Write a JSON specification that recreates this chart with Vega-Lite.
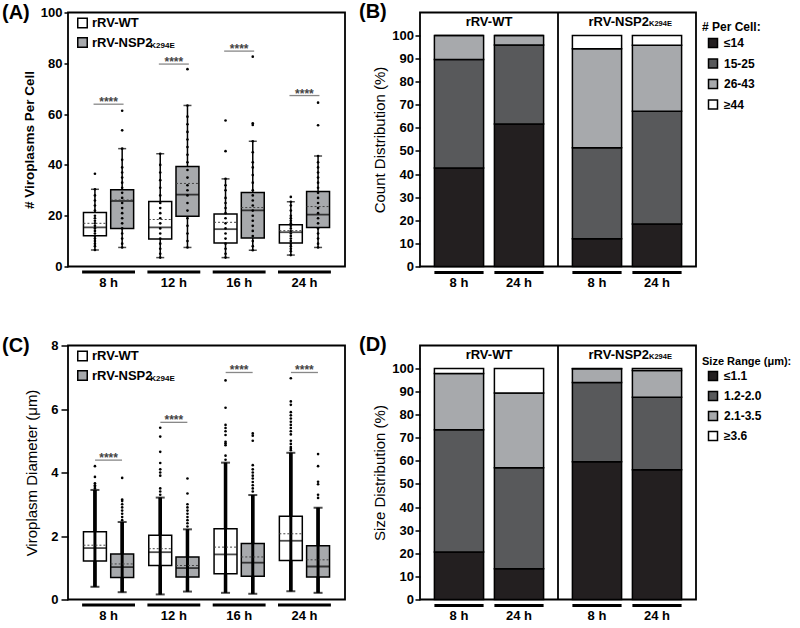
{
  "$schema": "https://vega.github.io/schema/vega-lite/v6.json",
  "background": "white",
  "padding": {"left": 1, "top": 0.5, "right": 0, "bottom": 0},
  "config": {
    "font": "Liberation Sans",
    "view": {"stroke": "#000", "strokeWidth": 1.8},
    "axis": {"grid": false, "domain": false, "labelOverlap": false, "labelFontWeight": "bold", "labelColor": "#000", "titleFontWeight": "normal", "titleColor": "#000", "tickColor": "#000", "tickWidth": 1.5},
    "axisY": {"labelOverlap": false},
    "axisQuantitative": {"labelOverlap": false},
    "legend": {"symbolOpacity": 1}
  },
  "resolve": {"scale": {"xOffset": "independent", "color": "independent", "fill": "independent"}, "legend": {"color": "independent", "fill": "independent"}},
  "datasets": {
    "boxA": [
      {"time": "8 h", "strain": "rRV-WT", "min": 6.5, "q1": 12.1, "median": 15.4, "mean": 17.0, "q3": 21.3, "max": 30.4},
      {"time": "8 h", "strain": "rRV-NSP2K294E", "min": 7.5, "q1": 15.0, "median": 25.8, "mean": 26.2, "q3": 30.2, "max": 46.4},
      {"time": "12 h", "strain": "rRV-WT", "min": 3.5, "q1": 10.8, "median": 15.4, "mean": 18.5, "q3": 25.6, "max": 44.4},
      {"time": "12 h", "strain": "rRV-NSP2K294E", "min": 7.5, "q1": 19.8, "median": 28.3, "mean": 32.7, "q3": 39.4, "max": 63.4},
      {"time": "16 h", "strain": "rRV-WT", "min": 3.5, "q1": 9.3, "median": 14.7, "mean": 17.4, "q3": 20.7, "max": 34.5},
      {"time": "16 h", "strain": "rRV-NSP2K294E", "min": 6.4, "q1": 11.2, "median": 22.1, "mean": 23.2, "q3": 29.1, "max": 49.3},
      {"time": "24 h", "strain": "rRV-WT", "min": 4.5, "q1": 9.3, "median": 13.5, "mean": 14.1, "q3": 16.4, "max": 25.5},
      {"time": "24 h", "strain": "rRV-NSP2K294E", "min": 7.5, "q1": 15.4, "median": 20.4, "mean": 23.6, "q3": 29.5, "max": 43.5}
    ],
    "boxC": [
      {"time": "8 h", "strain": "rRV-WT", "min": 0.4, "q1": 1.21, "median": 1.62, "mean": 1.71, "q3": 2.13, "max": 3.45},
      {"time": "8 h", "strain": "rRV-NSP2K294E", "min": 0.23, "q1": 0.69, "median": 1.02, "mean": 1.12, "q3": 1.43, "max": 2.44},
      {"time": "12 h", "strain": "rRV-WT", "min": 0.16, "q1": 1.07, "median": 1.49, "mean": 1.6, "q3": 2.02, "max": 3.21},
      {"time": "12 h", "strain": "rRV-NSP2K294E", "min": 0.25, "q1": 0.71, "median": 0.99, "mean": 1.07, "q3": 1.34, "max": 2.21},
      {"time": "16 h", "strain": "rRV-WT", "min": 0.21, "q1": 0.81, "median": 1.42, "mean": 1.65, "q3": 2.23, "max": 4.31},
      {"time": "16 h", "strain": "rRV-NSP2K294E", "min": 0.18, "q1": 0.73, "median": 1.16, "mean": 1.34, "q3": 1.76, "max": 3.29},
      {"time": "24 h", "strain": "rRV-WT", "min": 0.26, "q1": 1.23, "median": 1.85, "mean": 2.07, "q3": 2.62, "max": 4.62},
      {"time": "24 h", "strain": "rRV-NSP2K294E", "min": 0.21, "q1": 0.71, "median": 1.04, "mean": 1.25, "q3": 1.69, "max": 2.89}
    ],
    "ptsA": [
      {"time": "8 h", "strain": "rRV-WT", "v": 6.5}, {"time": "8 h", "strain": "rRV-WT", "v": 8}, {"time": "8 h", "strain": "rRV-WT", "v": 9}, {"time": "8 h", "strain": "rRV-WT", "v": 10}, {"time": "8 h", "strain": "rRV-WT", "v": 11}, {"time": "8 h", "strain": "rRV-WT", "v": 12}, {"time": "8 h", "strain": "rRV-WT", "v": 13}, {"time": "8 h", "strain": "rRV-WT", "v": 14}, {"time": "8 h", "strain": "rRV-WT", "v": 15}, {"time": "8 h", "strain": "rRV-WT", "v": 16}, {"time": "8 h", "strain": "rRV-WT", "v": 17}, {"time": "8 h", "strain": "rRV-WT", "v": 18}, {"time": "8 h", "strain": "rRV-WT", "v": 19}, {"time": "8 h", "strain": "rRV-WT", "v": 20}, {"time": "8 h", "strain": "rRV-WT", "v": 22}, {"time": "8 h", "strain": "rRV-WT", "v": 24}, {"time": "8 h", "strain": "rRV-WT", "v": 26}, {"time": "8 h", "strain": "rRV-WT", "v": 28}, {"time": "8 h", "strain": "rRV-WT", "v": 30.4}, {"time": "8 h", "strain": "rRV-WT", "v": 36.5},
      {"time": "8 h", "strain": "rRV-NSP2K294E", "v": 7.5}, {"time": "8 h", "strain": "rRV-NSP2K294E", "v": 9}, {"time": "8 h", "strain": "rRV-NSP2K294E", "v": 11}, {"time": "8 h", "strain": "rRV-NSP2K294E", "v": 13}, {"time": "8 h", "strain": "rRV-NSP2K294E", "v": 15}, {"time": "8 h", "strain": "rRV-NSP2K294E", "v": 17}, {"time": "8 h", "strain": "rRV-NSP2K294E", "v": 19}, {"time": "8 h", "strain": "rRV-NSP2K294E", "v": 21}, {"time": "8 h", "strain": "rRV-NSP2K294E", "v": 23}, {"time": "8 h", "strain": "rRV-NSP2K294E", "v": 25}, {"time": "8 h", "strain": "rRV-NSP2K294E", "v": 27}, {"time": "8 h", "strain": "rRV-NSP2K294E", "v": 29}, {"time": "8 h", "strain": "rRV-NSP2K294E", "v": 31}, {"time": "8 h", "strain": "rRV-NSP2K294E", "v": 33}, {"time": "8 h", "strain": "rRV-NSP2K294E", "v": 35}, {"time": "8 h", "strain": "rRV-NSP2K294E", "v": 37}, {"time": "8 h", "strain": "rRV-NSP2K294E", "v": 39}, {"time": "8 h", "strain": "rRV-NSP2K294E", "v": 42}, {"time": "8 h", "strain": "rRV-NSP2K294E", "v": 46.4}, {"time": "8 h", "strain": "rRV-NSP2K294E", "v": 53.6}, {"time": "8 h", "strain": "rRV-NSP2K294E", "v": 61.3},
      {"time": "12 h", "strain": "rRV-WT", "v": 3.5}, {"time": "12 h", "strain": "rRV-WT", "v": 5}, {"time": "12 h", "strain": "rRV-WT", "v": 7}, {"time": "12 h", "strain": "rRV-WT", "v": 9}, {"time": "12 h", "strain": "rRV-WT", "v": 11}, {"time": "12 h", "strain": "rRV-WT", "v": 13}, {"time": "12 h", "strain": "rRV-WT", "v": 15}, {"time": "12 h", "strain": "rRV-WT", "v": 17}, {"time": "12 h", "strain": "rRV-WT", "v": 19}, {"time": "12 h", "strain": "rRV-WT", "v": 21}, {"time": "12 h", "strain": "rRV-WT", "v": 23}, {"time": "12 h", "strain": "rRV-WT", "v": 25}, {"time": "12 h", "strain": "rRV-WT", "v": 28}, {"time": "12 h", "strain": "rRV-WT", "v": 31}, {"time": "12 h", "strain": "rRV-WT", "v": 34}, {"time": "12 h", "strain": "rRV-WT", "v": 37}, {"time": "12 h", "strain": "rRV-WT", "v": 40}, {"time": "12 h", "strain": "rRV-WT", "v": 44.4},
      {"time": "12 h", "strain": "rRV-NSP2K294E", "v": 7.5}, {"time": "12 h", "strain": "rRV-NSP2K294E", "v": 10}, {"time": "12 h", "strain": "rRV-NSP2K294E", "v": 13}, {"time": "12 h", "strain": "rRV-NSP2K294E", "v": 16}, {"time": "12 h", "strain": "rRV-NSP2K294E", "v": 19}, {"time": "12 h", "strain": "rRV-NSP2K294E", "v": 22}, {"time": "12 h", "strain": "rRV-NSP2K294E", "v": 25}, {"time": "12 h", "strain": "rRV-NSP2K294E", "v": 28}, {"time": "12 h", "strain": "rRV-NSP2K294E", "v": 30}, {"time": "12 h", "strain": "rRV-NSP2K294E", "v": 32}, {"time": "12 h", "strain": "rRV-NSP2K294E", "v": 35}, {"time": "12 h", "strain": "rRV-NSP2K294E", "v": 38}, {"time": "12 h", "strain": "rRV-NSP2K294E", "v": 41}, {"time": "12 h", "strain": "rRV-NSP2K294E", "v": 44}, {"time": "12 h", "strain": "rRV-NSP2K294E", "v": 47}, {"time": "12 h", "strain": "rRV-NSP2K294E", "v": 50}, {"time": "12 h", "strain": "rRV-NSP2K294E", "v": 53}, {"time": "12 h", "strain": "rRV-NSP2K294E", "v": 56}, {"time": "12 h", "strain": "rRV-NSP2K294E", "v": 59}, {"time": "12 h", "strain": "rRV-NSP2K294E", "v": 63.4}, {"time": "12 h", "strain": "rRV-NSP2K294E", "v": 77.7},
      {"time": "16 h", "strain": "rRV-WT", "v": 3.5}, {"time": "16 h", "strain": "rRV-WT", "v": 5}, {"time": "16 h", "strain": "rRV-WT", "v": 7}, {"time": "16 h", "strain": "rRV-WT", "v": 9}, {"time": "16 h", "strain": "rRV-WT", "v": 11}, {"time": "16 h", "strain": "rRV-WT", "v": 13}, {"time": "16 h", "strain": "rRV-WT", "v": 15}, {"time": "16 h", "strain": "rRV-WT", "v": 17}, {"time": "16 h", "strain": "rRV-WT", "v": 19}, {"time": "16 h", "strain": "rRV-WT", "v": 21}, {"time": "16 h", "strain": "rRV-WT", "v": 23}, {"time": "16 h", "strain": "rRV-WT", "v": 25}, {"time": "16 h", "strain": "rRV-WT", "v": 27}, {"time": "16 h", "strain": "rRV-WT", "v": 30}, {"time": "16 h", "strain": "rRV-WT", "v": 32}, {"time": "16 h", "strain": "rRV-WT", "v": 34.5}, {"time": "16 h", "strain": "rRV-WT", "v": 45.4}, {"time": "16 h", "strain": "rRV-WT", "v": 57.5},
      {"time": "16 h", "strain": "rRV-NSP2K294E", "v": 6.4}, {"time": "16 h", "strain": "rRV-NSP2K294E", "v": 8}, {"time": "16 h", "strain": "rRV-NSP2K294E", "v": 10}, {"time": "16 h", "strain": "rRV-NSP2K294E", "v": 12}, {"time": "16 h", "strain": "rRV-NSP2K294E", "v": 14}, {"time": "16 h", "strain": "rRV-NSP2K294E", "v": 16}, {"time": "16 h", "strain": "rRV-NSP2K294E", "v": 18}, {"time": "16 h", "strain": "rRV-NSP2K294E", "v": 20}, {"time": "16 h", "strain": "rRV-NSP2K294E", "v": 22}, {"time": "16 h", "strain": "rRV-NSP2K294E", "v": 24}, {"time": "16 h", "strain": "rRV-NSP2K294E", "v": 26}, {"time": "16 h", "strain": "rRV-NSP2K294E", "v": 28}, {"time": "16 h", "strain": "rRV-NSP2K294E", "v": 30}, {"time": "16 h", "strain": "rRV-NSP2K294E", "v": 33}, {"time": "16 h", "strain": "rRV-NSP2K294E", "v": 36}, {"time": "16 h", "strain": "rRV-NSP2K294E", "v": 39}, {"time": "16 h", "strain": "rRV-NSP2K294E", "v": 41}, {"time": "16 h", "strain": "rRV-NSP2K294E", "v": 45}, {"time": "16 h", "strain": "rRV-NSP2K294E", "v": 49.3}, {"time": "16 h", "strain": "rRV-NSP2K294E", "v": 55.7}, {"time": "16 h", "strain": "rRV-NSP2K294E", "v": 56.4}, {"time": "16 h", "strain": "rRV-NSP2K294E", "v": 82.6},
      {"time": "24 h", "strain": "rRV-WT", "v": 4.5}, {"time": "24 h", "strain": "rRV-WT", "v": 6}, {"time": "24 h", "strain": "rRV-WT", "v": 7}, {"time": "24 h", "strain": "rRV-WT", "v": 8}, {"time": "24 h", "strain": "rRV-WT", "v": 9}, {"time": "24 h", "strain": "rRV-WT", "v": 10}, {"time": "24 h", "strain": "rRV-WT", "v": 11}, {"time": "24 h", "strain": "rRV-WT", "v": 12}, {"time": "24 h", "strain": "rRV-WT", "v": 13}, {"time": "24 h", "strain": "rRV-WT", "v": 14}, {"time": "24 h", "strain": "rRV-WT", "v": 15}, {"time": "24 h", "strain": "rRV-WT", "v": 16}, {"time": "24 h", "strain": "rRV-WT", "v": 17}, {"time": "24 h", "strain": "rRV-WT", "v": 18}, {"time": "24 h", "strain": "rRV-WT", "v": 19}, {"time": "24 h", "strain": "rRV-WT", "v": 20}, {"time": "24 h", "strain": "rRV-WT", "v": 22}, {"time": "24 h", "strain": "rRV-WT", "v": 24}, {"time": "24 h", "strain": "rRV-WT", "v": 25.5}, {"time": "24 h", "strain": "rRV-WT", "v": 27.4},
      {"time": "24 h", "strain": "rRV-NSP2K294E", "v": 7.5}, {"time": "24 h", "strain": "rRV-NSP2K294E", "v": 9}, {"time": "24 h", "strain": "rRV-NSP2K294E", "v": 11}, {"time": "24 h", "strain": "rRV-NSP2K294E", "v": 13}, {"time": "24 h", "strain": "rRV-NSP2K294E", "v": 15}, {"time": "24 h", "strain": "rRV-NSP2K294E", "v": 17}, {"time": "24 h", "strain": "rRV-NSP2K294E", "v": 19}, {"time": "24 h", "strain": "rRV-NSP2K294E", "v": 21}, {"time": "24 h", "strain": "rRV-NSP2K294E", "v": 23}, {"time": "24 h", "strain": "rRV-NSP2K294E", "v": 25}, {"time": "24 h", "strain": "rRV-NSP2K294E", "v": 27}, {"time": "24 h", "strain": "rRV-NSP2K294E", "v": 29}, {"time": "24 h", "strain": "rRV-NSP2K294E", "v": 31}, {"time": "24 h", "strain": "rRV-NSP2K294E", "v": 33}, {"time": "24 h", "strain": "rRV-NSP2K294E", "v": 35}, {"time": "24 h", "strain": "rRV-NSP2K294E", "v": 37}, {"time": "24 h", "strain": "rRV-NSP2K294E", "v": 39}, {"time": "24 h", "strain": "rRV-NSP2K294E", "v": 41}, {"time": "24 h", "strain": "rRV-NSP2K294E", "v": 43.5}, {"time": "24 h", "strain": "rRV-NSP2K294E", "v": 55.6}, {"time": "24 h", "strain": "rRV-NSP2K294E", "v": 64.5}
    ],
    "ptsC": [
      {"time": "8 h", "strain": "rRV-WT", "v": 3.5}, {"time": "8 h", "strain": "rRV-WT", "v": 3.55}, {"time": "8 h", "strain": "rRV-WT", "v": 3.6}, {"time": "8 h", "strain": "rRV-WT", "v": 3.66}, {"time": "8 h", "strain": "rRV-WT", "v": 3.86}, {"time": "8 h", "strain": "rRV-WT", "v": 4.2},
      {"time": "8 h", "strain": "rRV-NSP2K294E", "v": 2.5}, {"time": "8 h", "strain": "rRV-NSP2K294E", "v": 2.6}, {"time": "8 h", "strain": "rRV-NSP2K294E", "v": 2.7}, {"time": "8 h", "strain": "rRV-NSP2K294E", "v": 2.8}, {"time": "8 h", "strain": "rRV-NSP2K294E", "v": 2.9}, {"time": "8 h", "strain": "rRV-NSP2K294E", "v": 3.0}, {"time": "8 h", "strain": "rRV-NSP2K294E", "v": 3.1}, {"time": "8 h", "strain": "rRV-NSP2K294E", "v": 3.15}, {"time": "8 h", "strain": "rRV-NSP2K294E", "v": 3.83},
      {"time": "12 h", "strain": "rRV-WT", "v": 3.3}, {"time": "12 h", "strain": "rRV-WT", "v": 3.4}, {"time": "12 h", "strain": "rRV-WT", "v": 3.5}, {"time": "12 h", "strain": "rRV-WT", "v": 3.9}, {"time": "12 h", "strain": "rRV-WT", "v": 4.0}, {"time": "12 h", "strain": "rRV-WT", "v": 4.1}, {"time": "12 h", "strain": "rRV-WT", "v": 4.3}, {"time": "12 h", "strain": "rRV-WT", "v": 4.65}, {"time": "12 h", "strain": "rRV-WT", "v": 5.13}, {"time": "12 h", "strain": "rRV-WT", "v": 5.41},
      {"time": "12 h", "strain": "rRV-NSP2K294E", "v": 2.3}, {"time": "12 h", "strain": "rRV-NSP2K294E", "v": 2.4}, {"time": "12 h", "strain": "rRV-NSP2K294E", "v": 2.5}, {"time": "12 h", "strain": "rRV-NSP2K294E", "v": 2.6}, {"time": "12 h", "strain": "rRV-NSP2K294E", "v": 2.7}, {"time": "12 h", "strain": "rRV-NSP2K294E", "v": 2.8}, {"time": "12 h", "strain": "rRV-NSP2K294E", "v": 2.9}, {"time": "12 h", "strain": "rRV-NSP2K294E", "v": 3.0}, {"time": "12 h", "strain": "rRV-NSP2K294E", "v": 3.34}, {"time": "12 h", "strain": "rRV-NSP2K294E", "v": 3.81},
      {"time": "16 h", "strain": "rRV-WT", "v": 4.4}, {"time": "16 h", "strain": "rRV-WT", "v": 4.53}, {"time": "16 h", "strain": "rRV-WT", "v": 4.86}, {"time": "16 h", "strain": "rRV-WT", "v": 4.92}, {"time": "16 h", "strain": "rRV-WT", "v": 4.97}, {"time": "16 h", "strain": "rRV-WT", "v": 5.18}, {"time": "16 h", "strain": "rRV-WT", "v": 5.3}, {"time": "16 h", "strain": "rRV-WT", "v": 5.4}, {"time": "16 h", "strain": "rRV-WT", "v": 5.5}, {"time": "16 h", "strain": "rRV-WT", "v": 6.04}, {"time": "16 h", "strain": "rRV-WT", "v": 6.9},
      {"time": "16 h", "strain": "rRV-NSP2K294E", "v": 3.4}, {"time": "16 h", "strain": "rRV-NSP2K294E", "v": 3.5}, {"time": "16 h", "strain": "rRV-NSP2K294E", "v": 3.6}, {"time": "16 h", "strain": "rRV-NSP2K294E", "v": 3.7}, {"time": "16 h", "strain": "rRV-NSP2K294E", "v": 3.81}, {"time": "16 h", "strain": "rRV-NSP2K294E", "v": 3.9}, {"time": "16 h", "strain": "rRV-NSP2K294E", "v": 4.0}, {"time": "16 h", "strain": "rRV-NSP2K294E", "v": 4.1}, {"time": "16 h", "strain": "rRV-NSP2K294E", "v": 4.23}, {"time": "16 h", "strain": "rRV-NSP2K294E", "v": 5.0}, {"time": "16 h", "strain": "rRV-NSP2K294E", "v": 5.16}, {"time": "16 h", "strain": "rRV-NSP2K294E", "v": 5.23},
      {"time": "24 h", "strain": "rRV-WT", "v": 4.7}, {"time": "24 h", "strain": "rRV-WT", "v": 4.75}, {"time": "24 h", "strain": "rRV-WT", "v": 4.8}, {"time": "24 h", "strain": "rRV-WT", "v": 4.9}, {"time": "24 h", "strain": "rRV-WT", "v": 5.0}, {"time": "24 h", "strain": "rRV-WT", "v": 5.2}, {"time": "24 h", "strain": "rRV-WT", "v": 5.3}, {"time": "24 h", "strain": "rRV-WT", "v": 5.4}, {"time": "24 h", "strain": "rRV-WT", "v": 5.5}, {"time": "24 h", "strain": "rRV-WT", "v": 5.6}, {"time": "24 h", "strain": "rRV-WT", "v": 5.7}, {"time": "24 h", "strain": "rRV-WT", "v": 5.8}, {"time": "24 h", "strain": "rRV-WT", "v": 5.9}, {"time": "24 h", "strain": "rRV-WT", "v": 6.13}, {"time": "24 h", "strain": "rRV-WT", "v": 6.24}, {"time": "24 h", "strain": "rRV-WT", "v": 6.97},
      {"time": "24 h", "strain": "rRV-NSP2K294E", "v": 3.2}, {"time": "24 h", "strain": "rRV-NSP2K294E", "v": 3.3}, {"time": "24 h", "strain": "rRV-NSP2K294E", "v": 3.63}, {"time": "24 h", "strain": "rRV-NSP2K294E", "v": 3.71}, {"time": "24 h", "strain": "rRV-NSP2K294E", "v": 4.2}, {"time": "24 h", "strain": "rRV-NSP2K294E", "v": 4.58}
    ],
    "sigA": [{"time": "8 h", "y": 63.9}, {"time": "12 h", "y": 79.7}, {"time": "16 h", "y": 84.8}, {"time": "24 h", "y": 67.3}],
    "sigC": [{"time": "8 h", "y": 4.39}, {"time": "12 h", "y": 5.58}, {"time": "16 h", "y": 7.15}, {"time": "24 h", "y": 7.15}],
    "countB": [
      {"strain": "rRV-WT", "time": "8 h", "range": "≤14", "pct": 42.6}, {"strain": "rRV-WT", "time": "8 h", "range": "15-25", "pct": 47.0}, {"strain": "rRV-WT", "time": "8 h", "range": "26-43", "pct": 10.4}, {"strain": "rRV-WT", "time": "8 h", "range": "≥44", "pct": 0},
      {"strain": "rRV-WT", "time": "24 h", "range": "≤14", "pct": 61.7}, {"strain": "rRV-WT", "time": "24 h", "range": "15-25", "pct": 34.1}, {"strain": "rRV-WT", "time": "24 h", "range": "26-43", "pct": 4.2}, {"strain": "rRV-WT", "time": "24 h", "range": "≥44", "pct": 0},
      {"strain": "rRV-NSP2K294E", "time": "8 h", "range": "≤14", "pct": 12.0}, {"strain": "rRV-NSP2K294E", "time": "8 h", "range": "15-25", "pct": 39.4}, {"strain": "rRV-NSP2K294E", "time": "8 h", "range": "26-43", "pct": 42.8}, {"strain": "rRV-NSP2K294E", "time": "8 h", "range": "≥44", "pct": 5.8},
      {"strain": "rRV-NSP2K294E", "time": "24 h", "range": "≤14", "pct": 18.4}, {"strain": "rRV-NSP2K294E", "time": "24 h", "range": "15-25", "pct": 48.8}, {"strain": "rRV-NSP2K294E", "time": "24 h", "range": "26-43", "pct": 28.5}, {"strain": "rRV-NSP2K294E", "time": "24 h", "range": "≥44", "pct": 4.3}
    ],
    "sizeD": [
      {"strain": "rRV-WT", "time": "8 h", "range": "≤1.1", "pct": 20.6}, {"strain": "rRV-WT", "time": "8 h", "range": "1.2-2.0", "pct": 52.9}, {"strain": "rRV-WT", "time": "8 h", "range": "2.1-3.5", "pct": 24.3}, {"strain": "rRV-WT", "time": "8 h", "range": "≥3.6", "pct": 2.2},
      {"strain": "rRV-WT", "time": "24 h", "range": "≤1.1", "pct": 13.3}, {"strain": "rRV-WT", "time": "24 h", "range": "1.2-2.0", "pct": 43.7}, {"strain": "rRV-WT", "time": "24 h", "range": "2.1-3.5", "pct": 32.3}, {"strain": "rRV-WT", "time": "24 h", "range": "≥3.6", "pct": 10.7},
      {"strain": "rRV-NSP2K294E", "time": "8 h", "range": "≤1.1", "pct": 59.6}, {"strain": "rRV-NSP2K294E", "time": "8 h", "range": "1.2-2.0", "pct": 34.3}, {"strain": "rRV-NSP2K294E", "time": "8 h", "range": "2.1-3.5", "pct": 5.9}, {"strain": "rRV-NSP2K294E", "time": "8 h", "range": "≥3.6", "pct": 0.2},
      {"strain": "rRV-NSP2K294E", "time": "24 h", "range": "≤1.1", "pct": 56.1}, {"strain": "rRV-NSP2K294E", "time": "24 h", "range": "1.2-2.0", "pct": 31.4}, {"strain": "rRV-NSP2K294E", "time": "24 h", "range": "2.1-3.5", "pct": 11.6}, {"strain": "rRV-NSP2K294E", "time": "24 h", "range": "≥3.6", "pct": 0.9}
    ]
  },
  "columns": 2,
  "bounds": "flush",
  "spacing": {"row": 79, "column": 75},
  "concat": [
    {
      "width": 277, "height": 254,
      "title": {"text": "(A)", "anchor": "start", "frame": "group", "dx": -66, "dy": 20, "offset": -6, "baseline": "middle", "fontSize": 20, "fontWeight": "bold", "color": "#000"},
      "encoding": {"x": {"field": "time", "type": "nominal", "sort": ["8 h", "12 h", "16 h", "24 h"], "scale": {"domain": ["8 h", "12 h", "16 h", "24 h"], "paddingInner": 0.19, "paddingOuter": 0.216}, "axis": {"title": null, "labelAngle": 0, "ticks": false, "labelPadding": 10, "labelFontSize": 13}}},
      "layer": [
        {"data": {"name": "boxA"}, "mark": {"type": "rule", "color": "#000", "strokeWidth": 1.5}, "encoding": {"xOffset": {"field": "strain", "type": "nominal", "scale": {"domain": ["rRV-WT", "rRV-NSP2K294E"], "paddingInner": 0.158, "paddingOuter": 0.05}}, "y": {"field": "min", "type": "quantitative", "scale": {"domain": [0, 100], "nice": false}, "axis": {"values": [0, 10, 20, 30, 40, 50, 60, 70, 80, 90, 100], "tickCount": 10, "labelOverlap": false, "title": "# Viroplasms Per Cell", "tickSize": 4, "labelPadding": 2, "labelFontSize": 13, "titleFontSize": 13.5, "titleFontWeight": "bold", "titlePadding": 4}}, "y2": {"field": "max"}}},
        {"data": {"name": "boxA"}, "transform": [{"filter": "datum.strain == 'rRV-WT'"}], "mark": {"type": "bar", "color": "#000"}, "encoding": {"y": {"datum": -1.58, "type": "quantitative", "axis": {"values": [0, 10, 20, 30, 40, 50, 60, 70, 80, 90, 100], "tickCount": 10, "labelOverlap": false, "title": "# Viroplasms Per Cell", "tickSize": 4, "labelPadding": 2, "labelFontSize": 13, "titleFontSize": 13.5, "titleFontWeight": "bold", "titlePadding": 4}}, "y2": {"datum": -2.76}}},
        {"data": {"name": "boxA"}, "mark": {"type": "tick", "color": "#000", "size": 8, "thickness": 1.5}, "encoding": {"xOffset": {"field": "strain", "type": "nominal"}, "y": {"field": "min", "type": "quantitative", "axis": {"values": [0, 10, 20, 30, 40, 50, 60, 70, 80, 90, 100], "tickCount": 10, "labelOverlap": false, "title": "# Viroplasms Per Cell", "tickSize": 4, "labelPadding": 2, "labelFontSize": 13, "titleFontSize": 13.5, "titleFontWeight": "bold", "titlePadding": 4}}}},
        {"data": {"name": "boxA"}, "mark": {"type": "tick", "color": "#000", "size": 8, "thickness": 1.5}, "encoding": {"xOffset": {"field": "strain", "type": "nominal"}, "y": {"field": "max", "type": "quantitative", "axis": {"values": [0, 10, 20, 30, 40, 50, 60, 70, 80, 90, 100], "tickCount": 10, "labelOverlap": false, "title": "# Viroplasms Per Cell", "tickSize": 4, "labelPadding": 2, "labelFontSize": 13, "titleFontSize": 13.5, "titleFontWeight": "bold", "titlePadding": 4}}}},
        {"data": {"name": "boxA"}, "mark": {"type": "bar", "stroke": "#000", "strokeWidth": 1.5}, "encoding": {"xOffset": {"field": "strain", "type": "nominal"}, "y": {"field": "q1", "type": "quantitative", "axis": {"values": [0, 10, 20, 30, 40, 50, 60, 70, 80, 90, 100], "tickCount": 10, "labelOverlap": false, "title": "# Viroplasms Per Cell", "tickSize": 4, "labelPadding": 2, "labelFontSize": 13, "titleFontSize": 13.5, "titleFontWeight": "bold", "titlePadding": 4}}, "y2": {"field": "q3"}, "fill": {"field": "strain", "type": "nominal", "scale": {"domain": ["rRV-WT", "rRV-NSP2K294E"], "range": ["#ffffff", "#a7a9ac"]}, "legend": {"orient": "none", "legendX": 8, "legendY": 4, "title": null, "labelExpr": "datum.label == 'rRV-NSP2K294E' ? 'rRV-NSP2' : datum.label", "labelFontSize": 13, "labelFontWeight": "bold", "labelColor": "#000", "symbolType": "square", "symbolSize": 90, "symbolStrokeColor": "#000", "symbolStrokeWidth": 1.5, "labelOffset": 3, "rowPadding": 2.5}}}},
        {"data": {"name": "ptsA"}, "mark": {"type": "point", "filled": true, "color": "#000", "size": 7, "opacity": 1}, "encoding": {"xOffset": {"field": "strain", "type": "nominal"}, "y": {"field": "v", "type": "quantitative", "axis": {"values": [0, 10, 20, 30, 40, 50, 60, 70, 80, 90, 100], "tickCount": 10, "labelOverlap": false, "title": "# Viroplasms Per Cell", "tickSize": 4, "labelPadding": 2, "labelFontSize": 13, "titleFontSize": 13.5, "titleFontWeight": "bold", "titlePadding": 4}}}},
        {"data": {"name": "boxA"}, "mark": {"type": "tick", "color": "#000", "size": 23, "thickness": 1.8}, "encoding": {"xOffset": {"field": "strain", "type": "nominal"}, "y": {"field": "median", "type": "quantitative", "axis": {"values": [0, 10, 20, 30, 40, 50, 60, 70, 80, 90, 100], "tickCount": 10, "labelOverlap": false, "title": "# Viroplasms Per Cell", "tickSize": 4, "labelPadding": 2, "labelFontSize": 13, "titleFontSize": 13.5, "titleFontWeight": "bold", "titlePadding": 4}}}},
        {"data": {"name": "boxA"}, "mark": {"type": "point", "shape": "stroke", "size": 529, "filled": false, "stroke": "#444", "strokeWidth": 1, "strokeDash": [2, 2], "opacity": 1}, "encoding": {"xOffset": {"field": "strain", "type": "nominal"}, "y": {"field": "mean", "type": "quantitative", "axis": {"values": [0, 10, 20, 30, 40, 50, 60, 70, 80, 90, 100], "tickCount": 10, "labelOverlap": false, "title": "# Viroplasms Per Cell", "tickSize": 4, "labelPadding": 2, "labelFontSize": 13, "titleFontSize": 13.5, "titleFontWeight": "bold", "titlePadding": 4}}}},
        {"data": {"name": "sigA"}, "mark": {"type": "tick", "color": "#555", "size": 30, "thickness": 1.3}, "encoding": {"y": {"field": "y", "type": "quantitative", "axis": {"values": [0, 10, 20, 30, 40, 50, 60, 70, 80, 90, 100], "tickCount": 10, "labelOverlap": false, "title": "# Viroplasms Per Cell", "tickSize": 4, "labelPadding": 2, "labelFontSize": 13, "titleFontSize": 13.5, "titleFontWeight": "bold", "titlePadding": 4}}}},
        {"data": {"name": "sigA"}, "mark": {"type": "text", "text": "****", "fontSize": 12, "fontWeight": "bold", "color": "#444", "baseline": "alphabetic", "dy": 2}, "encoding": {"y": {"field": "y", "type": "quantitative", "axis": {"values": [0, 10, 20, 30, 40, 50, 60, 70, 80, 90, 100], "tickCount": 10, "labelOverlap": false, "title": "# Viroplasms Per Cell", "tickSize": 4, "labelPadding": 2, "labelFontSize": 13, "titleFontSize": 13.5, "titleFontWeight": "bold", "titlePadding": 4}}}},
        {"data": {"values": [{"t": "K294E"}]}, "mark": {"type": "text", "align": "left", "baseline": "middle", "fontSize": 8, "fontWeight": "bold", "color": "#000", "dx": 41.7}, "encoding": {"x": {"datum": "8 h", "type": "nominal"}, "y": {"datum": 87.0, "type": "quantitative", "axis": {"values": [0, 10, 20, 30, 40, 50, 60, 70, 80, 90, 100], "tickCount": 10, "labelOverlap": false, "title": "# Viroplasms Per Cell", "tickSize": 4, "labelPadding": 2, "labelFontSize": 13, "titleFontSize": 13.5, "titleFontWeight": "bold", "titlePadding": 4}}, "text": {"field": "t"}}}
      ]
    },
    {
      "data": {"name": "countB"},
      "width": 276, "height": 254,
      "title": {"text": "(B)", "anchor": "start", "frame": "group", "dx": -61, "dy": 14, "offset": -6, "baseline": "middle", "fontSize": 20, "fontWeight": "bold", "color": "#000"},
      "transform": [{"calculate": "indexof(['≤14', '15-25', '26-43', '≥44'], datum.range)", "as": "k"}],
      "encoding": {
        "x": {"field": "strain", "type": "nominal", "sort": ["rRV-WT", "rRV-NSP2K294E"], "scale": {"domain": ["rRV-WT", "rRV-NSP2K294E"], "paddingInner": 0, "paddingOuter": 0}, "axis": null}
      },
      "layer": [
        {"mark": {"type": "bar", "stroke": "#000", "strokeWidth": 1.5}, "encoding": {
          "xOffset": {"field": "time", "type": "nominal", "sort": ["8 h", "24 h"], "scale": {"domain": ["8 h", "24 h"], "paddingInner": 0.18, "paddingOuter": 0.24}},
          "y": {"field": "pct", "type": "quantitative", "stack": "zero", "scale": {"domain": [0, 109.9], "nice": false}, "axis": {"values": [0, 10, 20, 30, 40, 50, 60, 70, 80, 90, 100], "tickCount": 11, "labelOverlap": false, "title": "Count Distribution (%)", "tickSize": 5, "labelPadding": 1.5, "labelFontSize": 13, "titleFontSize": 15, "titlePadding": 4.5}},
          "order": {"field": "k", "type": "quantitative", "sort": "ascending"},
          "color": {"field": "range", "type": "nominal", "sort": ["≤14", "15-25", "26-43", "≥44"], "scale": {"domain": ["≤14", "15-25", "26-43", "≥44"], "range": ["#231f20", "#58595b", "#a7a9ac", "#ffffff"]}, "legend": {"orient": "none", "legendX": 282, "legendY": 9.5, "title": "# Per Cell:", "titleFontSize": 12, "titleFontWeight": "bold", "titleColor": "#000", "titlePadding": 3, "labelFontSize": 12, "labelFontWeight": "bold", "labelColor": "#000", "symbolType": "square", "symbolSize": 81, "symbolStrokeColor": "#000", "symbolStrokeWidth": 1.5, "symbolOffset": 5, "labelOffset": 5, "rowPadding": 4.5}}
        }},
        {"transform": [{"filter": "datum.range == '≤14'"}], "mark": {"type": "bar", "color": "#000"}, "encoding": {"xOffset": {"field": "time", "type": "nominal"}, "y": {"datum": -1.95, "type": "quantitative"}, "y2": {"datum": -3.25}}},
        {"transform": [{"filter": "datum.range == '≤14'"}], "mark": {"type": "text", "fontSize": 13, "fontWeight": "bold", "color": "#000", "baseline": "middle"}, "encoding": {"xOffset": {"field": "time", "type": "nominal"}, "y": {"datum": -7.2, "type": "quantitative"}, "text": {"field": "time"}}},
        {"transform": [{"filter": "datum.range == '≤14' && datum.time == '8 h' && datum.strain == 'rRV-NSP2K294E'"}], "mark": {"type": "rule", "color": "#000", "strokeWidth": 1.8}, "encoding": {"x": {"field": "strain", "type": "nominal", "bandPosition": 0}}},
        {"transform": [{"filter": "datum.range == '≤14' && datum.time == '8 h' && datum.strain == 'rRV-WT'"}], "mark": {"type": "text", "fontSize": 13, "fontWeight": "bold", "color": "#000", "baseline": "middle"}, "encoding": {"y": {"datum": 106.0, "type": "quantitative"}, "text": {"field": "strain"}}},
        {"transform": [{"filter": "datum.range == '≤14' && datum.time == '8 h' && datum.strain == 'rRV-NSP2K294E'"}], "mark": {"type": "text", "fontSize": 13, "fontWeight": "bold", "color": "#000", "baseline": "middle", "align": "right", "dx": 22}, "encoding": {"y": {"datum": 106.0, "type": "quantitative"}, "text": {"value": "rRV-NSP2"}}},
        {"transform": [{"filter": "datum.range == '≤14' && datum.time == '8 h' && datum.strain == 'rRV-NSP2K294E'"}], "mark": {"type": "text", "fontSize": 7.5, "fontWeight": "bold", "color": "#000", "baseline": "middle", "align": "left", "dx": 22, "dy": 2.5}, "encoding": {"y": {"datum": 106.0, "type": "quantitative"}, "text": {"value": "K294E"}}}
      ]
    },
    {
      "width": 277, "height": 254,
      "title": {"text": "(C)", "anchor": "start", "frame": "group", "dx": -66, "dy": 20, "offset": -6, "baseline": "middle", "fontSize": 20, "fontWeight": "bold", "color": "#000"},
      "encoding": {"x": {"field": "time", "type": "nominal", "sort": ["8 h", "12 h", "16 h", "24 h"], "scale": {"domain": ["8 h", "12 h", "16 h", "24 h"], "paddingInner": 0.19, "paddingOuter": 0.216}, "axis": {"title": null, "labelAngle": 0, "ticks": false, "labelPadding": 10, "labelFontSize": 13}}},
      "layer": [
        {"data": {"name": "boxC"}, "mark": {"type": "rule", "color": "#000", "strokeWidth": 3.5}, "encoding": {"xOffset": {"field": "strain", "type": "nominal", "scale": {"domain": ["rRV-WT", "rRV-NSP2K294E"], "paddingInner": 0.158, "paddingOuter": 0.05}}, "y": {"field": "min", "type": "quantitative", "scale": {"domain": [0, 8], "nice": false}, "axis": {"values": [0, 1, 2, 3, 4, 5, 6, 7, 8], "tickCount": 8, "labelOverlap": false, "title": "Viroplasm Diameter (μm)", "tickSize": 7, "labelPadding": 3, "labelFontSize": 13, "titleFontSize": 15, "titlePadding": 11}}, "y2": {"field": "max"}}},
        {"data": {"name": "boxC"}, "transform": [{"filter": "datum.strain == 'rRV-WT'"}], "mark": {"type": "bar", "color": "#000"}, "encoding": {"y": {"datum": -0.126, "type": "quantitative", "axis": {"values": [0, 1, 2, 3, 4, 5, 6, 7, 8], "tickCount": 8, "labelOverlap": false, "title": "Viroplasm Diameter (μm)", "tickSize": 7, "labelPadding": 3, "labelFontSize": 13, "titleFontSize": 15, "titlePadding": 11}}, "y2": {"datum": -0.22}}},
        {"data": {"name": "boxC"}, "mark": {"type": "tick", "color": "#000", "size": 9, "thickness": 2}, "encoding": {"xOffset": {"field": "strain", "type": "nominal"}, "y": {"field": "min", "type": "quantitative", "axis": {"values": [0, 1, 2, 3, 4, 5, 6, 7, 8], "tickCount": 8, "labelOverlap": false, "title": "Viroplasm Diameter (μm)", "tickSize": 7, "labelPadding": 3, "labelFontSize": 13, "titleFontSize": 15, "titlePadding": 11}}}},
        {"data": {"name": "boxC"}, "mark": {"type": "tick", "color": "#000", "size": 9, "thickness": 2}, "encoding": {"xOffset": {"field": "strain", "type": "nominal"}, "y": {"field": "max", "type": "quantitative", "axis": {"values": [0, 1, 2, 3, 4, 5, 6, 7, 8], "tickCount": 8, "labelOverlap": false, "title": "Viroplasm Diameter (μm)", "tickSize": 7, "labelPadding": 3, "labelFontSize": 13, "titleFontSize": 15, "titlePadding": 11}}}},
        {"data": {"name": "boxC"}, "mark": {"type": "bar", "stroke": "#000", "strokeWidth": 1.5}, "encoding": {"xOffset": {"field": "strain", "type": "nominal"}, "y": {"field": "q1", "type": "quantitative", "axis": {"values": [0, 1, 2, 3, 4, 5, 6, 7, 8], "tickCount": 8, "labelOverlap": false, "title": "Viroplasm Diameter (μm)", "tickSize": 7, "labelPadding": 3, "labelFontSize": 13, "titleFontSize": 15, "titlePadding": 11}}, "y2": {"field": "q3"}, "fill": {"field": "strain", "type": "nominal", "scale": {"domain": ["rRV-WT", "rRV-NSP2K294E"], "range": ["#ffffff", "#a7a9ac"]}, "legend": {"orient": "none", "legendX": 8, "legendY": 4, "title": null, "labelExpr": "datum.label == 'rRV-NSP2K294E' ? 'rRV-NSP2' : datum.label", "labelFontSize": 13, "labelFontWeight": "bold", "labelColor": "#000", "symbolType": "square", "symbolSize": 90, "symbolStrokeColor": "#000", "symbolStrokeWidth": 1.5, "labelOffset": 3, "rowPadding": 2.5}}}},
        {"data": {"name": "boxC"}, "mark": {"type": "rule", "color": "#000", "strokeWidth": 3}, "encoding": {"xOffset": {"field": "strain", "type": "nominal"}, "y": {"field": "min", "type": "quantitative", "axis": {"values": [0, 1, 2, 3, 4, 5, 6, 7, 8], "tickCount": 8, "labelOverlap": false, "title": "Viroplasm Diameter (μm)", "tickSize": 7, "labelPadding": 3, "labelFontSize": 13, "titleFontSize": 15, "titlePadding": 11}}, "y2": {"field": "max"}}},
        {"data": {"name": "ptsC"}, "mark": {"type": "point", "filled": true, "color": "#000", "size": 7, "opacity": 1}, "encoding": {"xOffset": {"field": "strain", "type": "nominal"}, "y": {"field": "v", "type": "quantitative", "axis": {"values": [0, 1, 2, 3, 4, 5, 6, 7, 8], "tickCount": 8, "labelOverlap": false, "title": "Viroplasm Diameter (μm)", "tickSize": 7, "labelPadding": 3, "labelFontSize": 13, "titleFontSize": 15, "titlePadding": 11}}}},
        {"data": {"name": "boxC"}, "mark": {"type": "tick", "color": "#000", "size": 23, "thickness": 1.8}, "encoding": {"xOffset": {"field": "strain", "type": "nominal"}, "y": {"field": "median", "type": "quantitative", "axis": {"values": [0, 1, 2, 3, 4, 5, 6, 7, 8], "tickCount": 8, "labelOverlap": false, "title": "Viroplasm Diameter (μm)", "tickSize": 7, "labelPadding": 3, "labelFontSize": 13, "titleFontSize": 15, "titlePadding": 11}}}},
        {"data": {"name": "boxC"}, "mark": {"type": "point", "shape": "stroke", "size": 529, "filled": false, "stroke": "#444", "strokeWidth": 1, "strokeDash": [2, 2], "opacity": 1}, "encoding": {"xOffset": {"field": "strain", "type": "nominal"}, "y": {"field": "mean", "type": "quantitative", "axis": {"values": [0, 1, 2, 3, 4, 5, 6, 7, 8], "tickCount": 8, "labelOverlap": false, "title": "Viroplasm Diameter (μm)", "tickSize": 7, "labelPadding": 3, "labelFontSize": 13, "titleFontSize": 15, "titlePadding": 11}}}},
        {"data": {"name": "sigC"}, "mark": {"type": "tick", "color": "#555", "size": 27, "thickness": 1.3}, "encoding": {"y": {"field": "y", "type": "quantitative", "axis": {"values": [0, 1, 2, 3, 4, 5, 6, 7, 8], "tickCount": 8, "labelOverlap": false, "title": "Viroplasm Diameter (μm)", "tickSize": 7, "labelPadding": 3, "labelFontSize": 13, "titleFontSize": 15, "titlePadding": 11}}}},
        {"data": {"name": "sigC"}, "mark": {"type": "text", "text": "****", "fontSize": 12, "fontWeight": "bold", "color": "#444", "baseline": "alphabetic", "dy": 2}, "encoding": {"y": {"field": "y", "type": "quantitative", "axis": {"values": [0, 1, 2, 3, 4, 5, 6, 7, 8], "tickCount": 8, "labelOverlap": false, "title": "Viroplasm Diameter (μm)", "tickSize": 7, "labelPadding": 3, "labelFontSize": 13, "titleFontSize": 15, "titlePadding": 11}}}},
        {"data": {"values": [{"t": "K294E"}]}, "mark": {"type": "text", "align": "left", "baseline": "middle", "fontSize": 8, "fontWeight": "bold", "color": "#000", "dx": 41.7}, "encoding": {"x": {"datum": "8 h", "type": "nominal"}, "y": {"datum": 6.96, "type": "quantitative", "axis": {"values": [0, 1, 2, 3, 4, 5, 6, 7, 8], "tickCount": 8, "labelOverlap": false, "title": "Viroplasm Diameter (μm)", "tickSize": 7, "labelPadding": 3, "labelFontSize": 13, "titleFontSize": 15, "titlePadding": 11}}, "text": {"field": "t"}}}
      ]
    },
    {
      "data": {"name": "sizeD"},
      "width": 276, "height": 254,
      "title": {"text": "(D)", "anchor": "start", "frame": "group", "dx": -61, "dy": 14, "offset": -6, "baseline": "middle", "fontSize": 20, "fontWeight": "bold", "color": "#000"},
      "transform": [{"calculate": "indexof(['≤1.1', '1.2-2.0', '2.1-3.5', '≥3.6'], datum.range)", "as": "k"}],
      "encoding": {
        "x": {"field": "strain", "type": "nominal", "sort": ["rRV-WT", "rRV-NSP2K294E"], "scale": {"domain": ["rRV-WT", "rRV-NSP2K294E"], "paddingInner": 0, "paddingOuter": 0}, "axis": null}
      },
      "layer": [
        {"mark": {"type": "bar", "stroke": "#000", "strokeWidth": 1.5}, "encoding": {
          "xOffset": {"field": "time", "type": "nominal", "sort": ["8 h", "24 h"], "scale": {"domain": ["8 h", "24 h"], "paddingInner": 0.18, "paddingOuter": 0.24}},
          "y": {"field": "pct", "type": "quantitative", "stack": "zero", "scale": {"domain": [0, 109.9], "nice": false}, "axis": {"values": [0, 10, 20, 30, 40, 50, 60, 70, 80, 90, 100], "tickCount": 11, "labelOverlap": false, "title": "Size Distribution (%)", "tickSize": 5, "labelPadding": 1.5, "labelFontSize": 13, "titleFontSize": 15, "titlePadding": 4.5}},
          "order": {"field": "k", "type": "quantitative", "sort": "ascending"},
          "color": {"field": "range", "type": "nominal", "sort": ["≤1.1", "1.2-2.0", "2.1-3.5", "≥3.6"], "scale": {"domain": ["≤1.1", "1.2-2.0", "2.1-3.5", "≥3.6"], "range": ["#231f20", "#58595b", "#a7a9ac", "#ffffff"]}, "legend": {"orient": "none", "legendX": 282, "legendY": 10.5, "title": "Size Range (μm):", "titleFontSize": 11, "titleFontWeight": "bold", "titleColor": "#000", "titlePadding": 3, "labelFontSize": 12, "labelFontWeight": "bold", "labelColor": "#000", "symbolType": "square", "symbolSize": 81, "symbolStrokeColor": "#000", "symbolStrokeWidth": 1.5, "symbolOffset": 5, "labelOffset": 5, "rowPadding": 4}}
        }},
        {"transform": [{"filter": "datum.range == '≤1.1'"}], "mark": {"type": "bar", "color": "#000"}, "encoding": {"xOffset": {"field": "time", "type": "nominal"}, "y": {"datum": -1.95, "type": "quantitative"}, "y2": {"datum": -3.25}}},
        {"transform": [{"filter": "datum.range == '≤1.1'"}], "mark": {"type": "text", "fontSize": 13, "fontWeight": "bold", "color": "#000", "baseline": "middle"}, "encoding": {"xOffset": {"field": "time", "type": "nominal"}, "y": {"datum": -7.2, "type": "quantitative"}, "text": {"field": "time"}}},
        {"transform": [{"filter": "datum.range == '≤1.1' && datum.time == '8 h' && datum.strain == 'rRV-NSP2K294E'"}], "mark": {"type": "rule", "color": "#000", "strokeWidth": 1.8}, "encoding": {"x": {"field": "strain", "type": "nominal", "bandPosition": 0}}},
        {"transform": [{"filter": "datum.range == '≤1.1' && datum.time == '8 h' && datum.strain == 'rRV-WT'"}], "mark": {"type": "text", "fontSize": 13, "fontWeight": "bold", "color": "#000", "baseline": "middle"}, "encoding": {"y": {"datum": 106.0, "type": "quantitative"}, "text": {"field": "strain"}}},
        {"transform": [{"filter": "datum.range == '≤1.1' && datum.time == '8 h' && datum.strain == 'rRV-NSP2K294E'"}], "mark": {"type": "text", "fontSize": 13, "fontWeight": "bold", "color": "#000", "baseline": "middle", "align": "right", "dx": 22}, "encoding": {"y": {"datum": 106.0, "type": "quantitative"}, "text": {"value": "rRV-NSP2"}}},
        {"transform": [{"filter": "datum.range == '≤1.1' && datum.time == '8 h' && datum.strain == 'rRV-NSP2K294E'"}], "mark": {"type": "text", "fontSize": 7.5, "fontWeight": "bold", "color": "#000", "baseline": "middle", "align": "left", "dx": 22, "dy": 2.5}, "encoding": {"y": {"datum": 106.0, "type": "quantitative"}, "text": {"value": "K294E"}}}
      ]
    }
  ]
}
